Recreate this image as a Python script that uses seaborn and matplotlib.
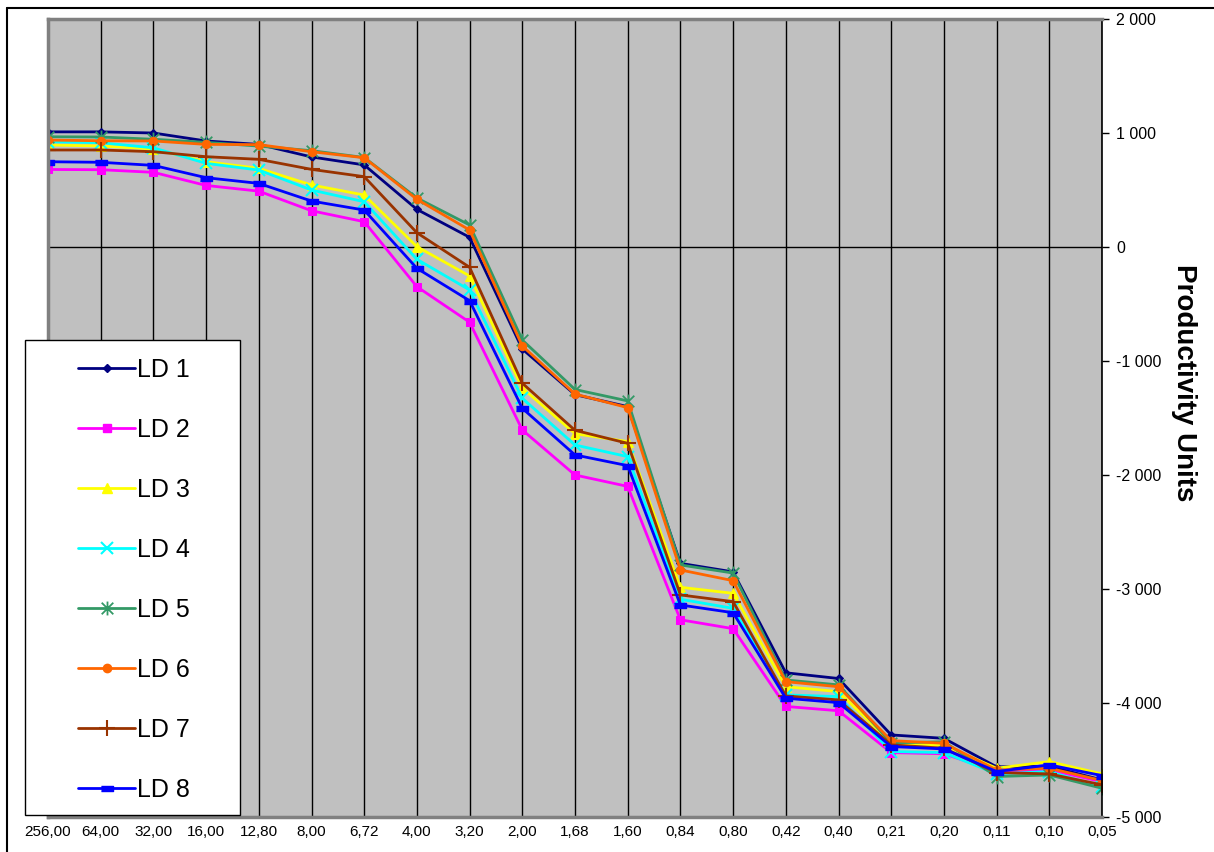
import matplotlib
matplotlib.use('Agg')
import matplotlib.pyplot as plt
from matplotlib.path import Path
from matplotlib.patches import Rectangle
from matplotlib.lines import Line2D
from matplotlib.ticker import FuncFormatter
import seaborn as sns
import numpy as np

PLOT_BG = '#C0C0C0'
FRAME_GRAY = '#808080'

categories = ['256,00', '64,00', '32,00', '16,00', '12,80', '8,00', '6,72', '4,00', '3,20', '2,00',
              '1,68', '1,60', '0,84', '0,80', '0,42', '0,40', '0,21', '0,20', '0,11', '0,10', '0,05']

ld1 = [1010, 1010, 1000, 930, 900, 790, 720, 330, 85, -895, -1295, -1400, -2775, -2850,
       -3735, -3785, -4280, -4310, -4560, -4555, -4675]
ld2 = [680, 678, 655, 540, 490, 318, 222, -348, -660, -1605, -2000, -2100, -3270, -3348,
       -4030, -4068, -4435, -4445, -4600, -4587, -4690]
ld3 = [895, 886, 860, 748, 690, 544, 456, 3, -254, -1237, -1638, -1707, -2985, -3038,
       -3857, -3900, -4350, -4370, -4572, -4514, -4622]
ld4 = [923, 915, 870, 734, 675, 500, 397, -108, -377, -1327, -1737, -1839, -3090, -3170,
       -3929, -3944, -4426, -4435, -4622, -4601, -4739]
ld5 = [967, 965, 945, 918, 885, 845, 785, 430, 193, -816, -1250, -1350, -2789, -2860,
       -3798, -3841, -4350, -4340, -4645, -4631, -4748]
ld6 = [938, 932, 930, 900, 898, 836, 783, 418, 149, -868, -1290, -1409, -2833, -2927,
       -3813, -3857, -4330, -4353, -4587, -4572, -4680]
ld7 = [851, 851, 836, 792, 769, 681, 617, 125, -178, -1195, -1608, -1722, -3052, -3111,
       -3938, -3973, -4367, -4397, -4610, -4622, -4718]
ld8 = [748, 743, 716, 608, 558, 403, 324, -187, -471, -1415, -1824, -1918, -3140, -3208,
       -3958, -3997, -4382, -4403, -4601, -4543, -4637]

series_names = ['LD 1', 'LD 2', 'LD 3', 'LD 4', 'LD 5', 'LD 6', 'LD 7', 'LD 8']
series_values = [ld1, ld2, ld3, ld4, ld5, ld6, ld7, ld8]

# excel-like marker shapes
star = Path([(-1, -1), (1, 1), (-1, 1), (1, -1), (0, -1.2), (0, 1.2)],
            [Path.MOVETO, Path.LINETO, Path.MOVETO, Path.LINETO, Path.MOVETO, Path.LINETO])
dash = [(-1, -0.45), (1, -0.45), (1, 0.45), (-1, 0.45)]

styles = [
    dict(color='#000080', marker='D', markersize=4),
    dict(color='#FF00FF', marker='s', markersize=6),
    dict(color='#FFFF00', marker='^', markersize=7),
    dict(color='#00FFFF', marker='x', markersize=8, markeredgewidth=1.5),
    dict(color='#339966', marker=star, markersize=10, markeredgewidth=1.3),
    dict(color='#FF6600', marker='o', markersize=6),
    dict(color='#993300', marker='+', markersize=11, markeredgewidth=1.5),
    dict(color='#0000FF', marker=dash, markersize=8, markeredgewidth=1.0),
]

sns.set_style('white')
plt.rcParams['font.family'] = ['Liberation Sans', 'DejaVu Sans']
plt.rcParams['text.color'] = 'black'
plt.rcParams['axes.labelcolor'] = 'black'
plt.rcParams['xtick.color'] = 'black'
plt.rcParams['ytick.color'] = 'black'

fig = plt.figure(figsize=(12.14, 8.52), dpi=100)
ax = fig.add_axes([48 / 1214, 35 / 852, 1054 / 1214, 798 / 852])
ax.set_facecolor(PLOT_BG)

x = np.arange(len(categories))
for name, vals, st in zip(series_names, series_values, styles):
    sns.lineplot(x=x, y=vals, ax=ax, linewidth=2, label=None, legend=False,
                 markeredgecolor=st['color'], **st)

ax.set_xlim(0, len(categories) - 1)
ax.set_ylim(-5000, 2000)

for xi in x:
    ax.axvline(xi, color='black', linewidth=1, zorder=0.5)
ax.axhline(0, color='black', linewidth=1, zorder=0.5)

ax.set_xticks(x)
ax.set_xticklabels(categories, fontsize=11)
ax.tick_params(axis='x', length=0, pad=6)

ax.yaxis.tick_right()
ax.yaxis.set_label_position('right')
ax.set_yticks(np.arange(-5000, 2001, 1000))
ax.yaxis.set_major_formatter(FuncFormatter(lambda v, p: f'{int(v):,}'.replace(',', ' ')))
ax.tick_params(axis='y', direction='out', length=5, width=1, color='black', labelsize=11.5, pad=5)
ax.set_ylabel('Productivity Units', fontsize=20, fontweight='bold', rotation=270, va='center')
ax.yaxis.set_label_coords(1.078, 0.544)
ax.set_xlabel('')

for side in ['left', 'top', 'bottom']:
    ax.spines[side].set_color(FRAME_GRAY)
    ax.spines[side].set_linewidth(2.5)
ax.spines['right'].set_color('black')
ax.spines['right'].set_linewidth(1.2)

# chart area border (left and top edges visible in the crop)
fig.add_artist(Line2D([7 / 1214, 7 / 1214], [0, 1 - 8 / 852], color='black', linewidth=1.5))
fig.add_artist(Line2D([7 / 1214, 1], [1 - 8 / 852, 1 - 8 / 852], color='black', linewidth=1.5))

# legend box
fig.add_artist(Rectangle((25 / 1214, 1 - 815 / 852), 215 / 1214, 475 / 852,
                         facecolor='white', edgecolor='black', linewidth=1, zorder=3))
handles = [Line2D([], [], linewidth=2, markeredgecolor=st['color'], **st) for st in styles]
leg = fig.legend(handles, series_names, loc='upper left',
                 bbox_to_anchor=(78 / 1214, 1 - 358 / 852), frameon=False,
                 fontsize=18, handlelength=2.28, handletextpad=0.08, labelspacing=1.44,
                 numpoints=1, borderpad=0, borderaxespad=0)
leg.set_zorder(4)

fig.savefig('out.png', dpi=100)
